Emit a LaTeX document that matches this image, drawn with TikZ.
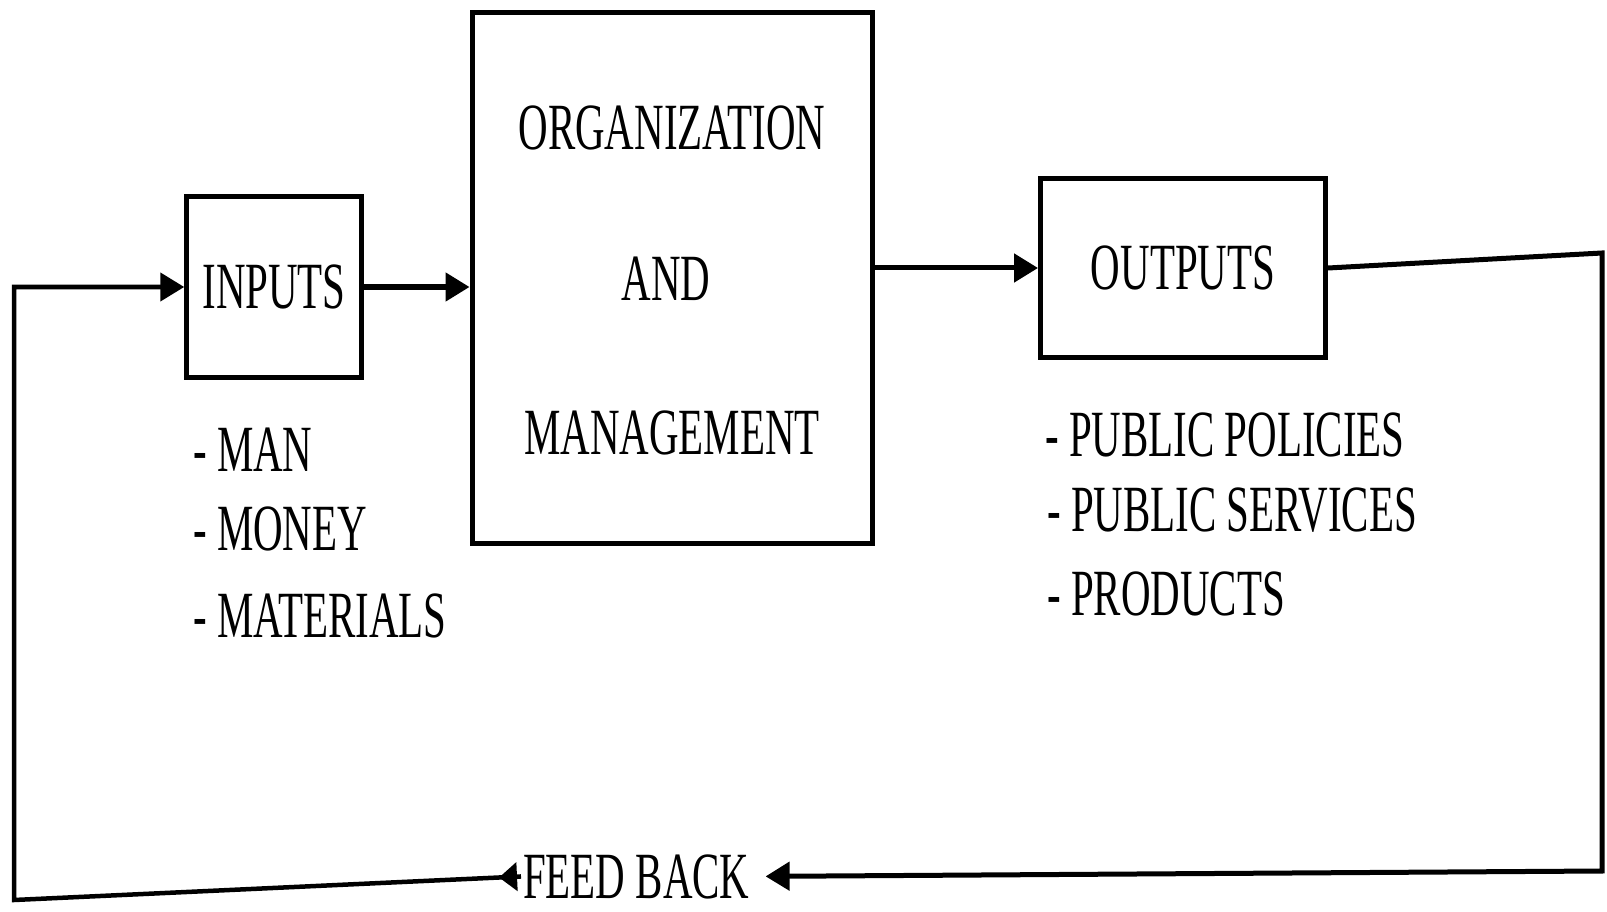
\documentclass[tikz,border=0pt]{standalone}
\usepackage{fontspec}
\setmainfont{Liberation Serif}
\usepackage{graphicx}
\usetikzlibrary{arrows.meta,decorations.markings}
\newcommand{\cn}[1]{\scalebox{0.62}[1]{#1}}
\begin{document}
\begin{tikzpicture}[x=1pt,y=-1pt,
  box/.style={draw, line width=5pt, rectangle, inner sep=0pt},
  conn/.style={line width=5pt, -{Triangle[length=24pt,width=28pt]}},
  txt/.style={font=\fontsize{66}{80}\selectfont, inner sep=0pt},
]
\useasboundingbox (0,0) rectangle (1607,912);
\fill[white] (0,0) rectangle (1607,912);

% boxes
\node[box, txt, minimum width=174.5pt, minimum height=180pt] (inputs) at (274,287) {\cn{INPUTS}};
\node[box, minimum width=400pt, minimum height=531pt] (org) at (672,278) {};
\node[txt] (orgA) at (672,128) {\cn{ORGANIZATION}};
\node[txt] (orgB) at (666,279) {\cn{AND}};
\node[txt] (orgC) at (672,433) {\cn{MANAGEMENT}};
\node[box, txt, minimum width=285pt, minimum height=178pt] (outputs) at (1183,268) {\cn{OUTPUTS}};

% lists
\node[txt, anchor=base west] (man) at (193,471.5) {\cn{- MAN}};
\node[txt, anchor=base west] (money) at (193,550) {\cn{- MONEY}};
\node[txt, anchor=base west] (mat) at (193,637.5) {\cn{- MATERIALS}};
\node[txt, anchor=base west] (pp) at (1045,456) {\cn{- PUBLIC POLICIES}};
\node[txt, anchor=base west] (ps) at (1047,531) {\cn{- PUBLIC SERVICES}};
\node[txt, anchor=base west] (pr) at (1047,615) {\cn{- PRODUCTS}};

% feedback
\node[txt, anchor=base west, inner xsep=2pt] (fb) at (521,898) {\cn{FEED BACK}};
\coordinate (bl) at (14,900);
\coordinate (tr) at (1602,253);
\coordinate (br) at (1602,871);

% connectors
\draw[conn] (inputs.east) -- (inputs.east -| org.west);
\draw[conn] (org.east |- outputs.west) -- (outputs.west);
\draw[conn, shorten >=14pt] (outputs.east) -- (tr) -- (br) -- (fb.east);
\draw[conn, line width=4.5pt, postaction={decorate},
  decoration={markings, mark=at position 22pt with {\arrow{Triangle[length=18pt,width=28pt]}}}]
  (fb.west) -- (bl) |- (inputs.west);
\end{tikzpicture}
\end{document}
